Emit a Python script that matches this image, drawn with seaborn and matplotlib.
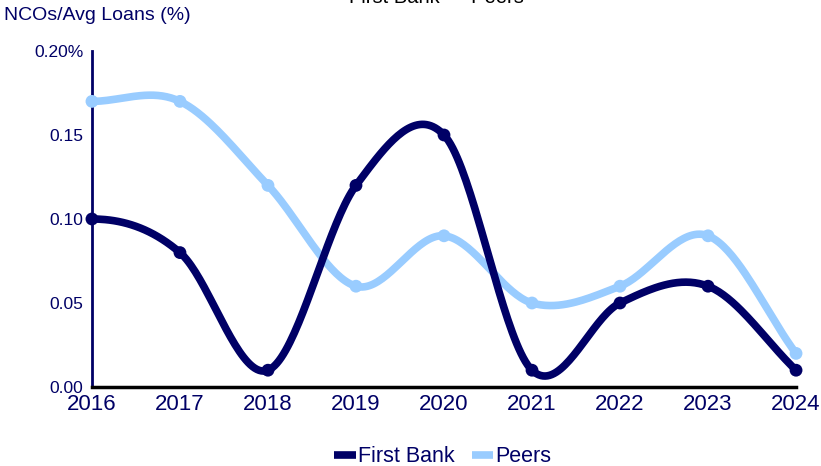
import numpy as np
import pandas as pd
import matplotlib
matplotlib.use("Agg")
import matplotlib.pyplot as plt
from matplotlib.lines import Line2D
import seaborn as sns

years = [2016, 2017, 2018, 2019, 2020, 2021, 2022, 2023, 2024]
first_bank = [0.10, 0.08, 0.01, 0.12, 0.15, 0.01, 0.05, 0.06, 0.01]
peers = [0.17, 0.17, 0.12, 0.06, 0.09, 0.05, 0.06, 0.09, 0.02]
y_ticks = [0.00, 0.05, 0.10, 0.15, 0.20]
y_tick_labels = ["0.00", "0.05", "0.10", "0.15", "0.20%"]

NAVY = "#000066"
LIGHT = "#99CCFF"

sns.set_theme(style="white")
plt.rcParams["font.family"] = ["Liberation Sans", "DejaVu Sans"]


def smooth(xs, ys, n=40):
    # catmull-rom style smoothing, like a spreadsheet "smoothed line"
    xs = np.asarray(xs, float)
    ys = np.asarray(ys, float)
    m = np.zeros_like(ys)
    m[1:-1] = (ys[2:] - ys[:-2]) / (xs[2:] - xs[:-2])
    m[0] = 0.0
    m[-1] = (ys[-1] - ys[-2]) / (xs[-1] - xs[-2])
    px, py = [], []
    for i in range(len(xs) - 1):
        h = xs[i + 1] - xs[i]
        t = np.linspace(0, 1, n, endpoint=False)
        h00 = 2 * t**3 - 3 * t**2 + 1
        h10 = t**3 - 2 * t**2 + t
        h01 = -2 * t**3 + 3 * t**2
        h11 = t**3 - t**2
        px.append(xs[i] + t * h)
        py.append(h00 * ys[i] + h10 * h * m[i] + h01 * ys[i + 1] + h11 * h * m[i + 1])
    px.append([xs[-1]])
    py.append([ys[-1]])
    return np.concatenate(px), np.concatenate(py)


fig = plt.figure(figsize=(8.21, 4.66), dpi=100)
ax = fig.add_axes([0.112, 0.1695, 0.8576, 0.7211])

for vals, col in [(peers, LIGHT), (first_bank, NAVY)]:
    sx, sy = smooth(years, vals)
    curve = pd.DataFrame({"x": sx, "y": sy})
    sns.lineplot(data=curve, x="x", y="y", color=col, lw=5.5, ax=ax,
                 sort=False, solid_capstyle="round", clip_on=False)
    pts = pd.DataFrame({"x": years, "y": vals})
    sns.scatterplot(data=pts, x="x", y="y", color=col, s=85, edgecolor="none",
                    ax=ax, zorder=3, clip_on=False)

ax.set_xlim(2016, 2024)
ax.set_ylim(0, 0.20)
ax.set_xticks(years)
ax.set_xticklabels([str(y) for y in years], fontsize=16, color=NAVY)
ax.set_yticks(y_ticks)
ax.set_yticklabels(y_tick_labels, fontsize=12.5, color=NAVY)
ax.set_xlabel("")
ax.set_ylabel("")
ax.tick_params(axis="x", direction="out", length=5, width=1.5, color="black", pad=0)
ax.tick_params(axis="y", direction="out", length=5, width=1.5, color=NAVY, pad=1)
for s in ["top", "right"]:
    ax.spines[s].set_visible(False)
ax.spines["left"].set_color(NAVY)
ax.spines["left"].set_linewidth(2)
ax.spines["left"].set_zorder(1)
ax.spines["bottom"].set_color("black")
ax.spines["bottom"].set_linewidth(2.5)
ax.grid(False)

fig.text(4 / 821, 1 - 15 / 466, "NCOs/Avg Loans (%)", fontsize=14, color=NAVY,
         ha="left", va="center")
fig.text(436 / 821, 1 - 3 / 466, "First Bank \u2014 Peers", fontsize=14.5,
         color="black", ha="center", va="baseline")

handles = [Line2D([], [], color=NAVY, lw=5.5, solid_capstyle="butt"),
           Line2D([], [], color=LIGHT, lw=5.5, solid_capstyle="butt")]
leg = fig.legend(handles, ["First Bank", "Peers"], loc="center",
                 bbox_to_anchor=(443 / 821, 1 - 457 / 466), ncol=2, frameon=False,
                 fontsize=15.5, handlelength=1.0, handletextpad=0.1,
                 columnspacing=0.8)
for t in leg.get_texts():
    t.set_color(NAVY)

fig.savefig("out.png", dpi=100)
